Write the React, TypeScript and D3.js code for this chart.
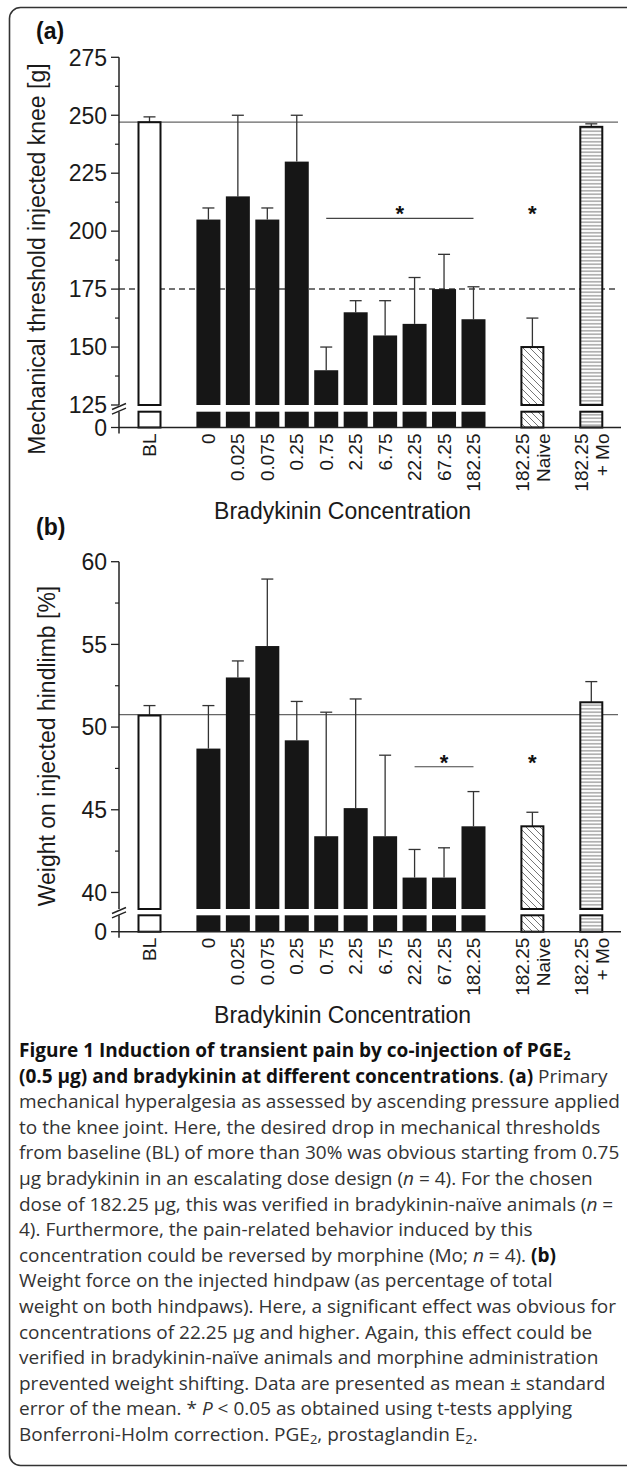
import React, { useEffect, useRef } from 'react';
import * as d3 from 'd3';

// groups in plotting order, slots include the empty gaps on the x axis
const groups = ["BL", "0", "0.025", "0.075", "0.25", "0.75", "2.25", "6.75", "22.25", "67.25", "182.25", "Naive", "Mo"];
const slots = ["BL", "gap1", "0", "0.025", "0.075", "0.25", "0.75", "2.25", "6.75", "22.25", "67.25", "182.25", "gap2", "Naive", "gap3", "Mo"];
const tickLabels = [["BL"], ["0"], ["0.025"], ["0.075"], ["0.25"], ["0.75"], ["2.25"], ["6.75"], ["22.25"], ["67.25"], ["182.25"], ["182.25", "Naive"], ["182.25", "+ Mo"]];
const barKind = ["open", "solid", "solid", "solid", "solid", "solid", "solid", "solid", "solid", "solid", "solid", "hatch", "lines"];

// (a) mechanical threshold [g]
const thresholdMean = [247, 205, 215, 205, 230, 140, 165, 155, 160, 175, 162, 150, 245];
const thresholdSem = [2.3, 5, 35, 5, 20, 10, 5, 15, 20, 15, 14, 12.5, 1.3];
const thresholdTicks = [125, 150, 175, 200, 225, 250, 275];
const thresholdMinor = [137.5, 162.5, 187.5, 212.5, 237.5, 262.5];

// (b) weight on injected hindlimb [%]
const weightMean = [50.7, 48.7, 53.0, 54.9, 49.2, 43.4, 45.1, 43.4, 40.9, 40.9, 44.0, 44.0, 51.5];
const weightSem = [0.6, 2.6, 1.0, 4.05, 2.35, 7.5, 6.6, 4.9, 1.7, 1.8, 2.1, 0.85, 1.25];
const weightTicks = [40, 45, 50, 55, 60];
const weightMinor = [42.5, 47.5, 52.5, 57.5];

const captionLines: [string, string][][] = [
  [["Figure 1 Induction of transient pain by co-injection of PGE", "b"], ["2", "bsub"]],
  [["(0.5 µg) and bradykinin at different concentrations", "b"], [". ", ""], ["(a)", "b"], [" Primary", ""]],
  [["mechanical hyperalgesia as assessed by ascending pressure applied", ""]],
  [["to the knee joint. Here, the desired drop in mechanical thresholds", ""]],
  [["from baseline (BL) of more than 30% was obvious starting from 0.75", ""]],
  [["µg bradykinin in an escalating dose design (", ""], ["n", "i"], [" = 4). For the chosen", ""]],
  [["dose of 182.25 µg, this was verified in bradykinin-naïve animals (", ""], ["n", "i"], [" =", ""]],
  [["4). Furthermore, the pain-related behavior induced by this", ""]],
  [["concentration could be reversed by morphine (Mo; ", ""], ["n", "i"], [" = 4). ", ""], ["(b)", "b"]],
  [["Weight force on the injected hindpaw (as percentage of total", ""]],
  [["weight on both hindpaws). Here, a significant effect was obvious for", ""]],
  [["concentrations of 22.25 µg and higher. Again, this effect could be", ""]],
  [["verified in bradykinin-naïve animals and morphine administration", ""]],
  [["prevented weight shifting. Data are presented as mean ± standard", ""]],
  [["error of the mean. * ", ""], ["P", "i"], [" < 0.05 as obtained using t-tests applying", ""]],
  [["Bonferroni-Holm correction. PGE", ""], ["2", "sub"], [", prostaglandin E", ""], ["2", "sub"], [".", ""]],
];

const FONT = "'Liberation Sans', Arial, Helvetica, sans-serif";

export default function App() {
  const svgRef = useRef<SVGSVGElement>(null);

  useEffect(() => {
    if (!svgRef.current) return;
    const svg = d3.select(svgRef.current);
    svg.selectAll("*").remove();

    const W = 627, H = 1470;
    svg.attr("width", W).attr("height", H);

    const defs = svg.append("defs");
    defs.append("pattern")
      .attr("id", "hatch").attr("patternUnits", "userSpaceOnUse")
      .attr("width", 7).attr("height", 7)
      .append("path")
      .attr("d", "M-1,-1 L8,8 M-8,-1 L1,8 M6,-1 L15,8")
      .attr("stroke", "#666").attr("stroke-width", 0.9);
    const hp = defs.append("pattern")
      .attr("id", "hlines").attr("patternUnits", "userSpaceOnUse")
      .attr("width", 8).attr("height", 3.5);
    hp.append("rect").attr("width", 8).attr("height", 3.5).attr("fill", "#fff");
    hp.append("line").attr("x1", 0).attr("x2", 8).attr("y1", 1.75).attr("y2", 1.75)
      .attr("stroke", "#777").attr("stroke-width", 1);

    // outer frame
    svg.append("rect")
      .attr("x", 9.5).attr("y", 7.5)
      .attr("width", 630).attr("height", 1458)
      .attr("rx", 11)
      .attr("fill", "none").attr("stroke", "#333").attr("stroke-width", 1.6);

    const x = d3.scalePoint<string>().domain(slots).range([149.5, 591.3]);
    const barW = 24;
    const axisX = 119;
    const axisRight = 621;

    type Panel = {
      label: string; title: string; titleX: number; titleY: number;
      mean: number[]; sem: number[]; ticks: number[]; minor: number[];
      domain: [number, number]; top: number; breakY: number; lowerTop: number; axisY: number;
      refLine: number; dashed?: number;
      sig: { from: string; to: string; value: number; extra: string };
      labelY: number;
    };

    const panels: Panel[] = [
      {
        label: "(a)", title: "Mechanical threshold injected knee [g]", titleX: 45, titleY: 259,
        mean: thresholdMean, sem: thresholdSem, ticks: thresholdTicks, minor: thresholdMinor,
        domain: [125, 275], top: 57.3, breakY: 405, lowerTop: 411.7, axisY: 427.5,
        refLine: thresholdMean[0], dashed: 175,
        sig: { from: "0.75", to: "182.25", value: 205.5, extra: "Naive" },
        labelY: 39,
      },
      {
        label: "(b)", title: "Weight on injected hindlimb [%]", titleX: 55, titleY: 746,
        mean: weightMean, sem: weightSem, ticks: weightTicks, minor: weightMinor,
        domain: [39, 60], top: 561.7, breakY: 909, lowerTop: 915.3, axisY: 931.7,
        refLine: 50.75,
        sig: { from: "22.25", to: "182.25", value: 47.6, extra: "Naive" },
        labelY: 535,
      },
    ];

    panels.forEach(p => {
      const g = svg.append("g");
      const yU = d3.scaleLinear().domain(p.domain).range([p.breakY, p.top]);
      const yL = d3.scaleLinear().domain([0, p.domain[0]]).range([p.axisY, p.lowerTop]);

      // panel label
      g.append("text").attr("x", 36).attr("y", p.labelY)
        .attr("font-family", FONT).attr("font-weight", "bold").attr("font-size", 23)
        .attr("fill", "#111").text(p.label);

      // reference lines
      g.append("line")
        .attr("x1", axisX).attr("x2", 618)
        .attr("y1", yU(p.refLine)).attr("y2", yU(p.refLine))
        .attr("stroke", "#666").attr("stroke-width", 1.2);
      if (p.dashed !== undefined) {
        g.append("line")
          .attr("x1", axisX).attr("x2", 618)
          .attr("y1", yU(p.dashed)).attr("y2", yU(p.dashed))
          .attr("stroke", "#444").attr("stroke-width", 1.5)
          .attr("stroke-dasharray", "6,4");
      }

      const fillFor = (k: string) =>
        k === "solid" ? "#161616" : k === "hatch" ? "url(#hatch)" : k === "lines" ? "url(#hlines)" : "#fff";

      // error bars (upper only)
      groups.forEach((gr, i) => {
        const cx = x(gr)!;
        const y0 = yU(p.mean[i]);
        const y1 = yU(p.mean[i] + p.sem[i]);
        g.append("line").attr("x1", cx).attr("x2", cx).attr("y1", y0).attr("y2", y1)
          .attr("stroke", "#333").attr("stroke-width", 1.3);
        g.append("line").attr("x1", cx - 6).attr("x2", cx + 6).attr("y1", y1).attr("y2", y1)
          .attr("stroke", "#333").attr("stroke-width", 1.3);
      });

      // bars: upper segment and lower stub below the axis break
      groups.forEach((gr, i) => {
        const cx = x(gr)!;
        const k = barKind[i];
        const stroke = k === "solid" ? "none" : "#111";
        const inset = k === "solid" ? 0 : 1;
        g.append("rect")
          .attr("x", cx - barW / 2 + inset).attr("width", barW - 2 * inset)
          .attr("y", yU(p.mean[i])).attr("height", yU(p.domain[0]) - yU(p.mean[i]))
          .attr("fill", fillFor(k)).attr("stroke", stroke).attr("stroke-width", 2);
        g.append("rect")
          .attr("x", cx - barW / 2 + inset).attr("width", barW - 2 * inset)
          .attr("y", yL(p.domain[0])).attr("height", yL(0) - yL(p.domain[0]))
          .attr("fill", fillFor(k)).attr("stroke", stroke).attr("stroke-width", 2);
      });

      // y axis with break
      g.append("line").attr("x1", axisX).attr("x2", axisX)
        .attr("y1", yU(p.domain[1])).attr("y2", yU(p.domain[0]))
        .attr("stroke", "#222").attr("stroke-width", 1.5);
      g.append("line").attr("x1", axisX).attr("x2", axisX)
        .attr("y1", yL(p.domain[0])).attr("y2", yL(0) + 6)
        .attr("stroke", "#222").attr("stroke-width", 1.5);
      [yU(p.domain[0]) + 1.5, yL(p.domain[0]) - 0.5].forEach(by => {
        g.append("line")
          .attr("x1", axisX - 7).attr("x2", axisX + 7)
          .attr("y1", by + 3).attr("y2", by - 3)
          .attr("stroke", "#222").attr("stroke-width", 1.4);
      });

      // x axis
      g.append("line").attr("x1", axisX).attr("x2", axisRight)
        .attr("y1", yL(0)).attr("y2", yL(0))
        .attr("stroke", "#222").attr("stroke-width", 1.5);

      // ticks
      p.ticks.forEach(t => {
        g.append("line").attr("x1", axisX - 8).attr("x2", axisX)
          .attr("y1", yU(t)).attr("y2", yU(t)).attr("stroke", "#222").attr("stroke-width", 1.3);
        g.append("text").attr("x", axisX - 12).attr("y", yU(t))
          .attr("dy", "0.36em").attr("text-anchor", "end")
          .attr("font-family", FONT).attr("font-size", 23).attr("fill", "#1a1a1a")
          .text(t);
      });
      p.minor.forEach(t => {
        g.append("line").attr("x1", axisX - 4).attr("x2", axisX)
          .attr("y1", yU(t)).attr("y2", yU(t)).attr("stroke", "#222").attr("stroke-width", 1.2);
      });
      g.append("line").attr("x1", axisX - 8).attr("x2", axisX)
        .attr("y1", yL(0)).attr("y2", yL(0)).attr("stroke", "#222").attr("stroke-width", 1.3);
      g.append("text").attr("x", axisX - 12).attr("y", yL(0))
        .attr("dy", "0.36em").attr("text-anchor", "end")
        .attr("font-family", FONT).attr("font-size", 23).attr("fill", "#1a1a1a")
        .text(0);

      // x tick labels (rotated)
      groups.forEach((gr, i) => {
        const lines = tickLabels[i];
        const offs = lines.length === 1 ? [0] : [-10, 11];
        lines.forEach((txt, j) => {
          const tx = x(gr)! + offs[j] + 6.5;
          const ty = yL(0) + 6;
          g.append("text")
            .attr("transform", `translate(${tx},${ty}) rotate(-90)`)
            .attr("text-anchor", "end")
            .attr("font-family", FONT).attr("font-size", 19).attr("fill", "#1a1a1a")
            .text(txt);
        });
      });

      // axis titles
      g.append("text")
        .attr("transform", `translate(${p.titleX},${p.titleY}) rotate(-90)`)
        .attr("text-anchor", "middle")
        .attr("font-family", FONT).attr("font-size", 23).attr("fill", "#1a1a1a")
        .text(p.title);
      g.append("text")
        .attr("x", 342.6).attr("y", yL(0) + 91)
        .attr("text-anchor", "middle")
        .attr("font-family", FONT).attr("font-size", 23).attr("fill", "#1a1a1a")
        .text("Bradykinin Concentration");

      // significance
      const sy = yU(p.sig.value);
      g.append("line").attr("x1", x(p.sig.from)!).attr("x2", x(p.sig.to)!)
        .attr("y1", sy).attr("y2", sy).attr("stroke", "#444").attr("stroke-width", 1.2);
      [(x(p.sig.from)! + x(p.sig.to)!) / 2, x(p.sig.extra)!].forEach(sx => {
        g.append("text").attr("x", sx).attr("y", sy + 3)
          .attr("text-anchor", "middle")
          .attr("font-family", FONT).attr("font-weight", "bold").attr("font-size", 22)
          .attr("fill", "#111").text("*");
      });
    });

    // caption
    const cap = svg.append("g");
    captionLines.forEach((segs, li) => {
      const t = cap.append("text")
        .attr("x", 19).attr("y", 1057 + li * 25.6)
        .attr("font-family", "'Open Sans', 'Noto Sans', sans-serif")
        .attr("font-size", 19).attr("fill", "#333")
        .style("white-space", "pre");
      segs.forEach(([s, st]) => {
        const ts = t.append("tspan").text(s);
        if (st === "b" || st === "bsub") ts.attr("font-weight", "bold").attr("fill", "#111");
        if (st === "i") ts.attr("font-style", "italic");
        if (st === "sub" || st === "bsub") ts.attr("font-size", 13).attr("baseline-shift", "-25%");
      });
    });
  }, []);

  return (
    <div style={{ position: "absolute", left: 0, top: 0, background: "#fff" }}>
      <svg ref={svgRef}></svg>
    </div>
  );
}
